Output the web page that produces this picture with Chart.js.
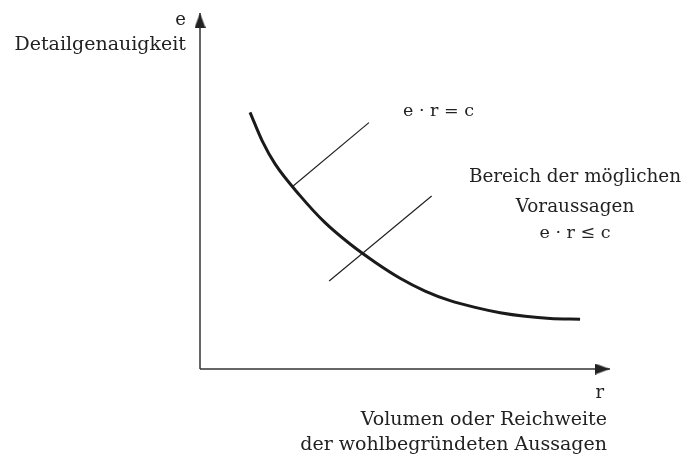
<!DOCTYPE html>
<html>
<head>
<meta charset="utf-8">
<script src="https://cdn.jsdelivr.net/npm/chart.js@4"></script>
<style>
  html, body { margin: 0; padding: 0; background: #fff; }
  #wrap { position: relative; width: 685px; height: 454px; }
  #chart { position: absolute; left: 0; top: 0; }
  .lbl {
    position: absolute;
    font-family: "DejaVu Serif", serif;
    font-size: 18px;
    line-height: 18px;
    color: #222;
    white-space: nowrap;
  }
  .big { font-size: 19px; line-height: 19px; }
  .r { text-align: right; }
  .c { text-align: center; width: 300px; font-size: 18.4px; }
</style>
</head>
<body>
<div id="wrap">
  <canvas id="chart" width="685" height="454"></canvas>
  <div class="lbl r" style="right:499px; top:10px;">e</div>
  <div class="lbl big r" style="right:499px; top:34px;">Detailgenauigkeit</div>
  <div class="lbl" style="left:403px; top:101px; font-size:17.5px;">e · r = c</div>
  <div class="lbl c" style="left:425px; top:167px;">Bereich der möglichen</div>
  <div class="lbl c" style="left:425px; top:197px;">Voraussagen</div>
  <div class="lbl c" style="left:425px; top:223px; font-size:17.5px;">e · r ≤ c</div>
  <div class="lbl r" style="right:81px; top:383px;">r</div>
  <div class="lbl big r" style="right:78px; top:409px;">Volumen oder Reichweite</div>
  <div class="lbl big r" style="right:78px; top:434px;">der wohlbegründeten Aussagen</div>
</div>
<script>
// axis extents (arbitrary units, origin at the corner of the axes)
const axisMax = 100;

// the curve e · r = c
const curveR = [12.2, 15.2, 18.3, 24.4, 30.5, 36.6, 42.7, 48.8, 54.9, 61.0, 67.1, 73.2, 79.3, 85.4, 92.7];
const curveE = [72.1, 64.0, 57.6, 48.7, 41.1, 35.1, 30.0, 25.5, 21.9, 19.2, 17.3, 15.8, 14.8, 14.2, 14.0];

// leader line to "e · r = c"
const leader1R = [22.5, 41.2];
const leader1E = [51.2, 69.2];

// leader line to "Bereich der möglichen Voraussagen"
const leader2R = [31.5, 56.5];
const leader2E = [24.7, 48.6];

function toPoints(xs, ys) {
  return xs.map((x, i) => ({ x: x, y: ys[i] }));
}

// arrow head as a point style: tip sits at the centre of the canvas
function makeArrow() {
  const c = document.createElement("canvas");
  c.width = 11;
  c.height = 32;
  const g = c.getContext("2d");
  g.fillStyle = "#222";
  g.beginPath();
  g.moveTo(5.5, 16);
  g.lineTo(11, 31);
  g.lineTo(0, 31);
  g.closePath();
  g.fill();
  return c;
}
const arrow = makeArrow();

const axisLine = {
  type: "line",
  borderColor: "#333",
  borderWidth: 1.5,
  pointStyle: arrow,
  pointRadius: [0, 5],
  tension: 0,
  clip: false
};

new Chart(document.getElementById("chart"), {
  type: "scatter",
  data: {
    datasets: [
      Object.assign({}, axisLine, {
        label: "e",
        data: toPoints([0, 0], [0, axisMax]),
        rotation: 0
      }),
      Object.assign({}, axisLine, {
        label: "r",
        data: toPoints([0, axisMax], [0, 0]),
        rotation: 90
      }),
      {
        type: "line",
        label: "e · r = c",
        data: toPoints(curveR, curveE),
        borderColor: "#1a1a1a",
        borderWidth: 3,
        pointRadius: 0,
        cubicInterpolationMode: "monotone",
        clip: false
      },
      {
        type: "line",
        label: "leader 1",
        data: toPoints(leader1R, leader1E),
        borderColor: "#222",
        borderWidth: 1.2,
        pointRadius: 0,
        clip: false
      },
      {
        type: "line",
        label: "leader 2",
        data: toPoints(leader2R, leader2E),
        borderColor: "#222",
        borderWidth: 1.2,
        pointRadius: 0,
        clip: false
      }
    ]
  },
  options: {
    responsive: false,
    animation: false,
    events: [],
    layout: { padding: { left: 200, right: 75, top: 13, bottom: 85 } },
    plugins: {
      legend: { display: false },
      tooltip: { enabled: false }
    },
    scales: {
      x: { type: "linear", min: 0, max: axisMax, display: false },
      y: { type: "linear", min: 0, max: axisMax, display: false }
    }
  }
});
</script>
</body>
</html>
